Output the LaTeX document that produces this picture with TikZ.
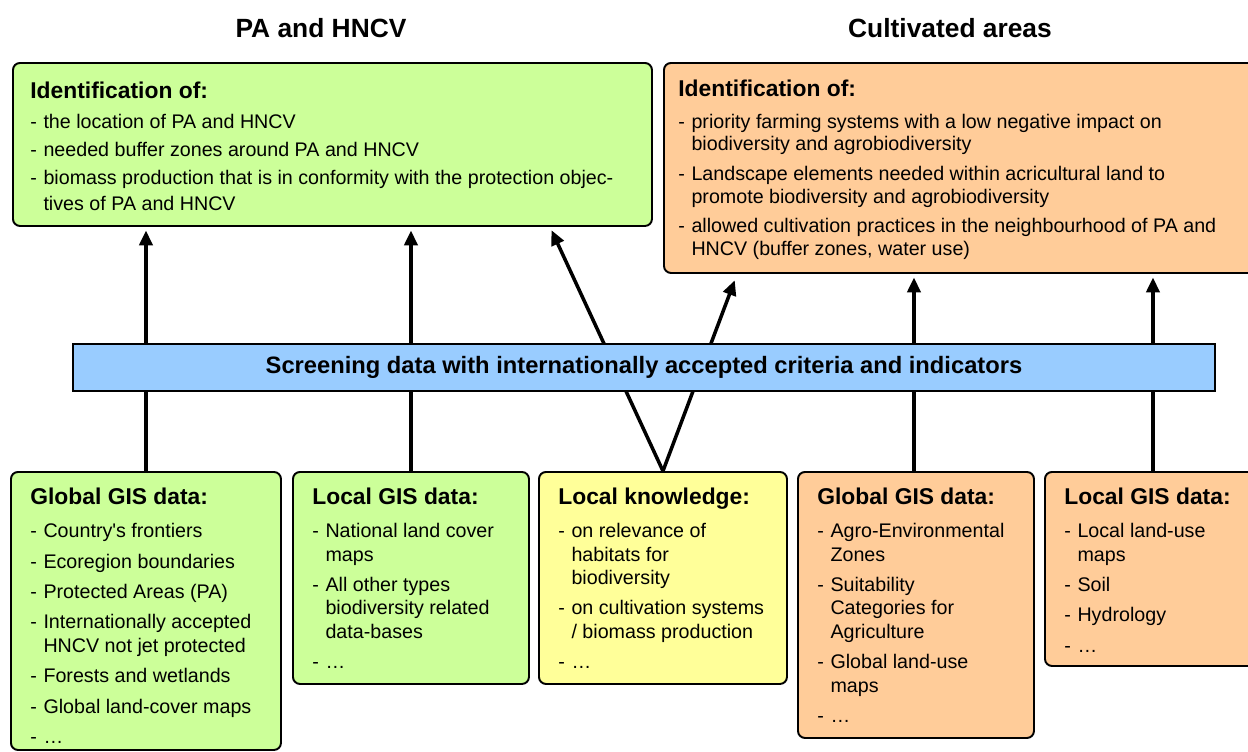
\documentclass[tikz,border=0pt]{standalone}
\usepackage{fontspec}
\setmainfont{Liberation Sans}
\usepackage{xcolor}
\usepackage{tikz}
\usetikzlibrary{arrows.meta}

\definecolor{paGreen}{HTML}{CCFF99}
\definecolor{cuOrange}{HTML}{FFCC99}
\definecolor{lkYellow}{HTML}{FFFF99}
\definecolor{scBlue}{HTML}{99CCFF}

\newcommand{\pxl}{0.02cm}
\newcommand{\itm}{\makebox[7.5pt][l]{-}}
\newcommand{\cnt}{\hspace*{7.5pt}}
\newcommand{\hd}[1]{{\fontsize{13}{13}\selectfont\bfseries #1}}

\begin{document}
\begin{tikzpicture}[x=0.02cm, y=-0.02cm, inner sep=0pt]
            \useasboundingbox (0,0) rectangle (1248,751);

            \tikzstyle{myBox}=[draw, line width=1.1pt, rounded corners=4pt, anchor=north west];
            \tikzstyle{myTxt}=[anchor=north west, align=left, font=\fontsize{11.2}{13.3}\selectfont];
            \tikzstyle{myHead}=[font=\fontsize{15}{18}\selectfont\bfseries];
            \tikzstyle{myArr}=[line width=2pt, -{Triangle[length=8.5pt,width=7.5pt]}, shorten >=2pt];

            \node[myHead] (paTitle) at (321,28) {PA and HNCV};
            \node[myHead] (cuTitle) at (950,28) {Cultivated areas};

            \node[myBox, fill=paGreen, minimum width=639*\pxl, minimum height=163*\pxl] (pa) at (12,62) {};
            \node[myTxt, font=\fontsize{11.2}{14.5}\selectfont] (paTxt) at (30,82) {\hd{Identification of:}\\[2.5pt]
               \itm the location of PA and HNCV\\[1.5pt]
               \itm needed buffer zones around PA and HNCV\\[1.5pt]
               \itm biomass production that is in conformity with the protection objec-\\
               \cnt tives of PA and HNCV};

            \node[myBox, fill=cuOrange, minimum width=600*\pxl, minimum height=210*\pxl] (cu) at (663,62) {};
            \node[myTxt, font=\fontsize{11.2}{12.7}\selectfont] (cuTxt) at (678,80) {\hd{Identification of:}\\[5.3pt]
               \itm priority farming systems with a low negative impact on\\
               \cnt biodiversity and agrobiodiversity\\[4.3pt]
               \itm Landscape elements needed within acricultural land to\\
               \cnt promote biodiversity and agrobiodiversity\\[4.3pt]
               \itm allowed cultivation practices in the neighbourhood of PA and\\
               \cnt HNCV (buffer zones, water use)};

            \node[myBox, fill=paGreen, minimum width=270*\pxl, minimum height=278*\pxl] (1) at (10,471) {};
            \node[myTxt] (1t) at (30,488) {\hd{Global GIS data:}\\[5.4pt]
               \itm Country\textquotesingle s frontiers\\[4pt]
               \itm Ecoregion boundaries\\[4pt]
               \itm Protected Areas (PA)\\[4pt]
               \itm Internationally accepted\\
               \cnt HNCV not jet protected\\[4pt]
               \itm Forests and wetlands\\[4pt]
               \itm Global land-cover maps\\[4pt]
               \itm …};

            \node[myBox, fill=paGreen, minimum width=236*\pxl, minimum height=212*\pxl] (2) at (292,471) {};
            \node[myTxt] (2t) at (312,488) {\hd{Local GIS data:}\\[5.4pt]
               \itm National land cover\\
               \cnt maps\\[4pt]
               \itm All other types\\
               \cnt biodiversity related\\
               \cnt data-bases\\[4pt]
               \itm …};

            \node[myBox, fill=lkYellow, minimum width=248*\pxl, minimum height=212*\pxl] (3) at (538,471) {};
            \node[myTxt] (3t) at (558,488) {\hd{Local knowledge:}\\[5.4pt]
               \itm on relevance of\\
               \cnt habitats for\\
               \cnt biodiversity\\[4pt]
               \itm on cultivation systems\\
               \cnt / biomass production\\[4pt]
               \itm …};

            \node[myBox, fill=cuOrange, minimum width=236*\pxl, minimum height=266*\pxl] (4) at (797,471) {};
            \node[myTxt] (4t) at (817,488) {\hd{Global GIS data:}\\[5.4pt]
               \itm Agro-Environmental\\
               \cnt Zones\\[4pt]
               \itm Suitability\\
               \cnt Categories for\\
               \cnt Agriculture\\[4pt]
               \itm Global land-use\\
               \cnt maps\\[4pt]
               \itm …};

            \node[myBox, fill=cuOrange, minimum width=216*\pxl, minimum height=194*\pxl] (5) at (1044,471) {};
            \node[myTxt] (5t) at (1064,488) {\hd{Local GIS data:}\\[5.4pt]
               \itm Local land-use\\
               \cnt maps\\[4pt]
               \itm Soil\\[4pt]
               \itm Hydrology\\[4pt]
               \itm …};

            \coordinate (lkA) at (550,227);
            \coordinate (lkB) at (736,277);
            \draw[myArr] (1.north) -- (1.north |- pa.south);
            \draw[myArr] (2.north) -- (2.north |- pa.south);
            \draw[myArr] (3.north) -- (lkA);
            \draw[myArr] (3.north) -- (lkB);
            \draw[myArr] ([xshift=-2*\pxl]4.north) -- ([xshift=-2*\pxl]4.north |- cu.south);
            \draw[myArr] (5.north) -- (5.north |- cu.south);

            \node[draw, line width=1.1pt, fill=scBlue, anchor=north west, minimum width=1142*\pxl, minimum height=47*\pxl] (screen) at (72,343) {};
            \node[font=\fontsize{13.5}{13.5}\selectfont\bfseries] (screenTxt) at (screen.center) {Screening data with internationally accepted criteria and indicators};
         \end{tikzpicture}
\end{document}
